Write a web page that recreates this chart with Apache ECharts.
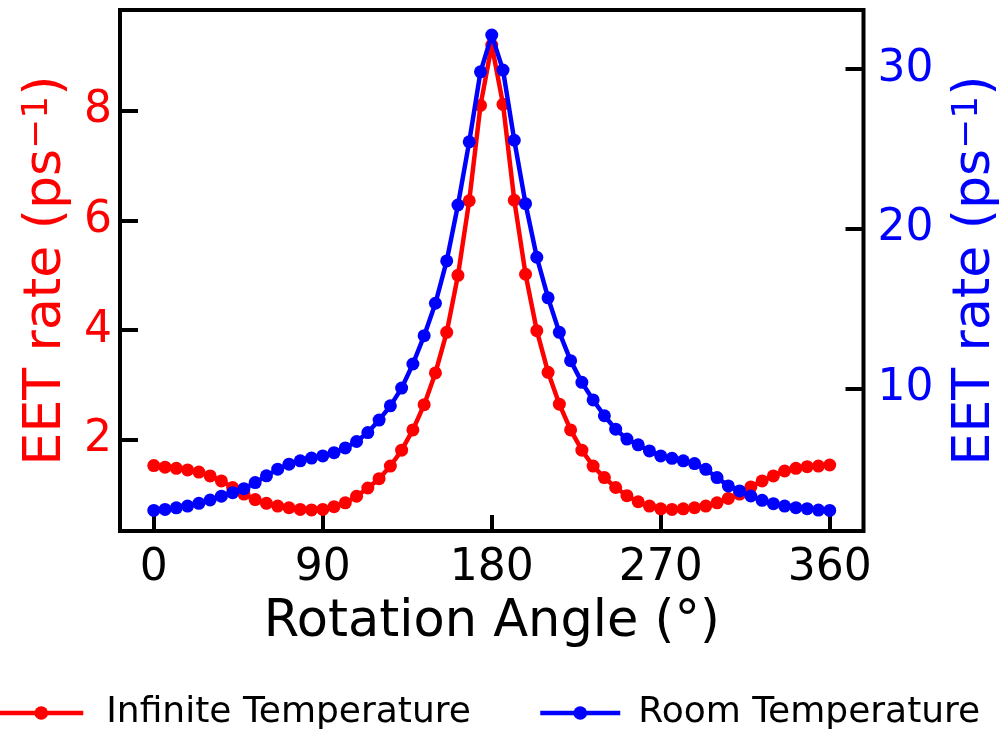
<!DOCTYPE html>
<html>
<head>
<meta charset="utf-8">
<script src="https://cdn.jsdelivr.net/npm/echarts@6/dist/echarts.min.js"></script>
<style>html,body{margin:0;padding:0;background:#fff}#c{width:999px;height:729px}</style>
</head>
<body>
<div id="c"></div>
<script>
var angles = [0,6,12,18,24,30,36,42,48,54,60,66,72,78,84,90,96,102,108,114,120,126,132,138,144,150,156,162,168,174,180,186,192,198,204,210,216,222,228,234,240,246,252,258,264,270,276,282,288,294,300,306,312,318,324,330,336,342,348,354,360];
var infiniteTemp = [1.53,1.50,1.48,1.45,1.41,1.34,1.25,1.13,1.01,0.91,0.84,0.79,0.76,0.73,0.72,0.73,0.78,0.85,0.97,1.12,1.29,1.52,1.81,2.18,2.64,3.22,3.96,5.00,6.36,8.10,9.20,8.12,6.37,5.02,3.99,3.23,2.65,2.18,1.81,1.52,1.31,1.13,0.98,0.87,0.79,0.74,0.73,0.74,0.76,0.79,0.85,0.93,1.01,1.14,1.25,1.34,1.43,1.48,1.51,1.52,1.54];
var roomTemp = [2.39,2.45,2.55,2.66,2.83,3.04,3.28,3.50,3.75,4.13,4.55,4.97,5.28,5.49,5.66,5.80,6.00,6.30,6.70,7.26,8.04,8.93,10.04,11.55,13.32,15.35,18.00,21.50,25.45,29.83,32.13,29.94,25.55,21.58,18.23,15.69,13.53,11.76,10.40,9.30,8.31,7.47,6.85,6.49,6.11,5.80,5.65,5.49,5.32,4.96,4.44,3.92,3.61,3.29,3.02,2.81,2.66,2.56,2.50,2.41,2.39];
var xTicks = [0,90,180,270,360];
var leftTicks = [2,4,6,8];
var rightTicks = [10,20,30];
var seriesNames = ['Infinite Temperature','Room Temperature'];
var axisTitleX = 'Rotation Angle (°)';
var axisTitleYMain = 'EET rate (ps';
var axisTitleYSup = '−1';
var axisTitleYEnd = ')';

function pairs(xs, ys){ return xs.map(function(x,i){ return [x, ys[i]]; }); }
var yTitle = axisTitleYMain + '{sup|' + axisTitleYSup + '}' + axisTitleYEnd;

var FONT = 'DejaVu Sans';
var chart = echarts.init(document.getElementById('c'), null, {renderer:'canvas'});
chart.setOption({
  animation:false,
  backgroundColor:'#ffffff',
  grid:{left:120, right:135.5, top:10, bottom:198, show:true, borderColor:'#000', borderWidth:4,
        backgroundColor:'transparent', containLabel:false, outerBoundsMode:'none'},
  legend:[
    {data:[seriesNames[0]], left:-8, top:690, itemWidth:84, itemHeight:17,
     lineStyle:{width:4.5},
     textStyle:{fontFamily:FONT, fontSize:36, color:'#000', padding:[0,0,0,18]}},
    {data:[seriesNames[1]], left:533, top:690, itemWidth:80, itemHeight:17,
     lineStyle:{width:4.5},
     textStyle:{fontFamily:FONT, fontSize:36, color:'#000', padding:[0,0,0,13]}}
  ],
  xAxis:{type:'value', min:-18, max:378,
    name:axisTitleX, nameLocation:'middle', nameGap:66,
    nameTextStyle:{fontFamily:FONT, fontSize:51, color:'#000'},
    axisLine:{show:false, onZero:false}, splitLine:{show:false},
    axisTick:{show:true, inside:true, length:16, lineStyle:{color:'#000', width:4}, customValues:xTicks},
    axisLabel:{fontFamily:FONT, fontSize:44, color:'#000', margin:16, customValues:xTicks}
  },
  yAxis:[
    {type:'value', position:'left', min:0.336, max:9.84,
     name:yTitle, nameLocation:'middle', nameGap:48, nameRotate:90,
     nameTextStyle:{fontFamily:FONT, fontSize:52, color:'#ff0000',
       rich:{sup:{fontFamily:FONT, fontSize:36, color:'#ff0000', verticalAlign:'top'}}},
     axisLine:{show:false, onZero:false}, splitLine:{show:false},
     axisTick:{show:true, inside:true, length:18, lineStyle:{color:'#000', width:4}, customValues:leftTicks},
     axisLabel:{fontFamily:FONT, fontSize:44, color:'#ff0000', margin:8, customValues:leftTicks}
    },
    {type:'value', position:'right', min:1.1, max:33.7,
     name:yTitle, nameLocation:'middle', nameGap:86, nameRotate:90,
     nameTextStyle:{fontFamily:FONT, fontSize:52, color:'#0000ff',
       rich:{sup:{fontFamily:FONT, fontSize:36, color:'#0000ff', verticalAlign:'top'}}},
     axisLine:{show:false, onZero:false}, splitLine:{show:false},
     axisTick:{show:true, inside:true, length:18, lineStyle:{color:'#000', width:4}, customValues:rightTicks},
     axisLabel:{fontFamily:FONT, fontSize:44, color:'#0000ff', margin:14, customValues:rightTicks}
    }
  ],
  series:[
    {name:seriesNames[0], type:'line', yAxisIndex:0, data:pairs(angles, infiniteTemp),
     symbol:'circle', symbolSize:13, showSymbol:true,
     lineStyle:{color:'#ff0000', width:4.5}, itemStyle:{color:'#ff0000'}, z:2},
    {name:seriesNames[1], type:'line', yAxisIndex:1, data:pairs(angles, roomTemp),
     symbol:'circle', symbolSize:13, showSymbol:true,
     lineStyle:{color:'#0000ff', width:4.5}, itemStyle:{color:'#0000ff'}, z:3}
  ]
});
</script>
</body>
</html>
